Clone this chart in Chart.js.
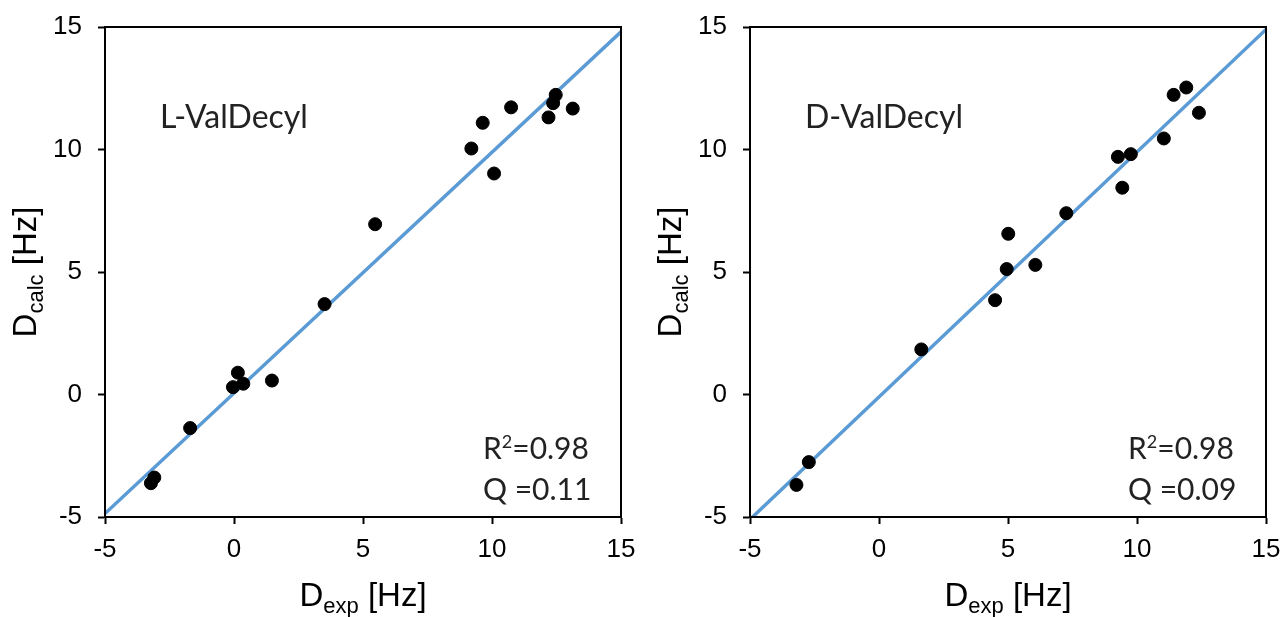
<!DOCTYPE html>
<html>
<head>
<meta charset="utf-8">
<script src="https://cdn.jsdelivr.net/npm/chart.js@4.4.1/dist/chart.umd.min.js"></script>
<style>
  html, body { margin: 0; padding: 0; background: #fff; }
  #wrap { position: relative; width: 1283px; height: 617px; }
  .box { position: absolute; top: 0; height: 617px; }
</style>
</head>
<body>
<div id="wrap">
  <div class="box" style="left:0;width:641px;"><canvas id="c1"></canvas></div>
  <div class="box" style="left:641px;width:642px;"><canvas id="c2"></canvas></div>
</div>
<script>
// ---- Data ----
const ticks = [-5, 0, 5, 10, 15];

// L-ValDecyl
const lExp  = [-3.22, -3.09, -1.70, -0.04, 0.15, 0.36, 1.47, 3.51, 5.47, 9.20, 9.64, 10.08, 10.74, 12.19, 12.37, 12.47, 13.13];
const lCalc = [-3.62, -3.39, -1.37, 0.30, 0.89, 0.44, 0.57, 3.69, 6.95, 10.04, 11.09, 9.02, 11.72, 11.31, 11.89, 12.23, 11.67];
const lFitX = [-5, 15];
const lFitY = [-4.86, 14.8];

// D-ValDecyl
const dExp  = [-3.20, -2.72, 1.64, 4.50, 4.95, 5.01, 6.06, 7.26, 9.26, 9.76, 9.43, 11.04, 11.42, 11.91, 12.40];
const dCalc = [-3.69, -2.76, 1.84, 3.85, 5.12, 6.56, 5.29, 7.40, 9.70, 9.81, 8.44, 10.45, 12.23, 12.53, 11.50];
const dFitX = [-4.9, 15];
const dFitY = [-5, 14.9];

const labels = { l: 'L-ValDecyl', d: 'D-ValDecyl' };
const stats = { l: { r2: '0.98', q: '0.11' }, d: { r2: '0.98', q: '0.09' } };

const TICK_FONT = '"Liberation Sans", Arial, sans-serif';
const ANN_FONT = 'Lato, "Open Sans", sans-serif';

function drawSubText(ctx, parts, x, y, align) {
  let total = 0;
  parts.forEach(p => { ctx.font = p.size + 'px ' + p.family; p.w = ctx.measureText(p.t).width; total += p.w; });
  let cx = align === 'center' ? x - total / 2 : x;
  ctx.textBaseline = 'alphabetic';
  ctx.textAlign = 'left';
  parts.forEach(p => { ctx.font = p.size + 'px ' + p.family; ctx.fillText(p.t, cx, y + (p.dy || 0)); cx += p.w; });
}

const decor = {
  id: 'decor',
  afterDraw(chart, args, opts) {
    const ctx = chart.ctx;
    const a = chart.chartArea;
    ctx.save();
    ctx.strokeStyle = '#000';
    ctx.lineWidth = 2;
    ctx.strokeRect(a.left, a.top, a.right - a.left, a.bottom - a.top);
    ctx.fillStyle = '#000';
    const F = TICK_FONT;
    drawSubText(ctx, [
      { t: 'D', size: 33, family: F },
      { t: 'exp', size: 22, family: F, dy: 7 },
      { t: ' [Hz]', size: 33, family: F }
    ], (a.left + a.right) / 2, 606, 'center');
    ctx.save();
    ctx.translate(a.left - 69, (a.top + a.bottom) / 2);
    ctx.rotate(-Math.PI / 2);
    drawSubText(ctx, [
      { t: 'D', size: 33, family: F },
      { t: 'calc', size: 22, family: F, dy: 7 },
      { t: ' [Hz]', size: 33, family: F }
    ], 0, 0, 'center');
    ctx.restore();
    ctx.fillStyle = '#222';
    ctx.font = '32px ' + ANN_FONT;
    ctx.textAlign = 'left';
    ctx.textBaseline = 'alphabetic';
    ctx.fillText(opts.label, a.left + 55, a.top + 101);
    drawSubText(ctx, [
      { t: 'R', size: 30, family: ANN_FONT },
      { t: '2', size: 18, family: ANN_FONT, dy: -11 },
      { t: '=' + opts.r2, size: 30, family: ANN_FONT }
    ], a.left + 378, a.top + 432, 'left');
    ctx.font = '30px ' + ANN_FONT;
    ctx.fillText('Q =' + opts.q, a.left + 378, a.top + 473);
    ctx.restore();
  }
};

function makeChart(id, xs, ys, fx, fy, key, yAxisWidth, padRight) {
  const pts = xs.map((x, i) => ({ x: x, y: ys[i] }));
  const fit = fx.map((x, i) => ({ x: x, y: fy[i] }));
  const axisCommon = {
    type: 'linear',
    min: -5, max: 15,
    afterBuildTicks: (s) => { s.ticks = ticks.map(v => ({ value: v })); },
    border: { display: true, color: '#000', width: 2 },
    grid: { display: true, drawOnChartArea: false, drawTicks: true, tickLength: 7, tickWidth: 2, tickColor: '#000', color: '#000' },
    ticks: { color: '#000', font: { family: TICK_FONT, size: 26 } }
  };
  return new Chart(document.getElementById(id), {
    type: 'scatter',
    data: {
      datasets: [
        { type: 'line', data: fit, borderColor: '#5B9BD5', borderWidth: 3.5, pointRadius: 0, fill: false, order: 2 },
        { data: pts, backgroundColor: '#000', borderColor: '#000', pointRadius: 6.5, pointHoverRadius: 6.5, order: 1 }
      ]
    },
    options: {
      responsive: true,
      maintainAspectRatio: false,
      animation: false,
      events: [],
      layout: { padding: { top: 27, right: padRight, bottom: 0, left: 0 } },
      plugins: {
        legend: { display: false },
        tooltip: { enabled: false },
        decor: { label: labels[key], r2: stats[key].r2, q: stats[key].q }
      },
      scales: {
        x: Object.assign({}, axisCommon, {
          position: 'bottom',
          ticks: Object.assign({}, axisCommon.ticks, { padding: 10, maxRotation: 0 }),
          afterFit: (s) => { s.height = 100; s.paddingLeft = 0; s.paddingRight = 0; }
        }),
        y: Object.assign({}, axisCommon, {
          position: 'left',
          ticks: Object.assign({}, axisCommon.ticks, { padding: 16 }),
          afterFit: (s) => { s.width = yAxisWidth; s.paddingTop = 0; s.paddingBottom = 0; }
        })
      }
    },
    plugins: [decor]
  });
}

makeChart('c1', lExp, lCalc, lFitX, lFitY, 'l', 105, 20);
makeChart('c2', dExp, dCalc, dFitX, dFitY, 'd', 109, 17);
</script>
</body>
</html>
